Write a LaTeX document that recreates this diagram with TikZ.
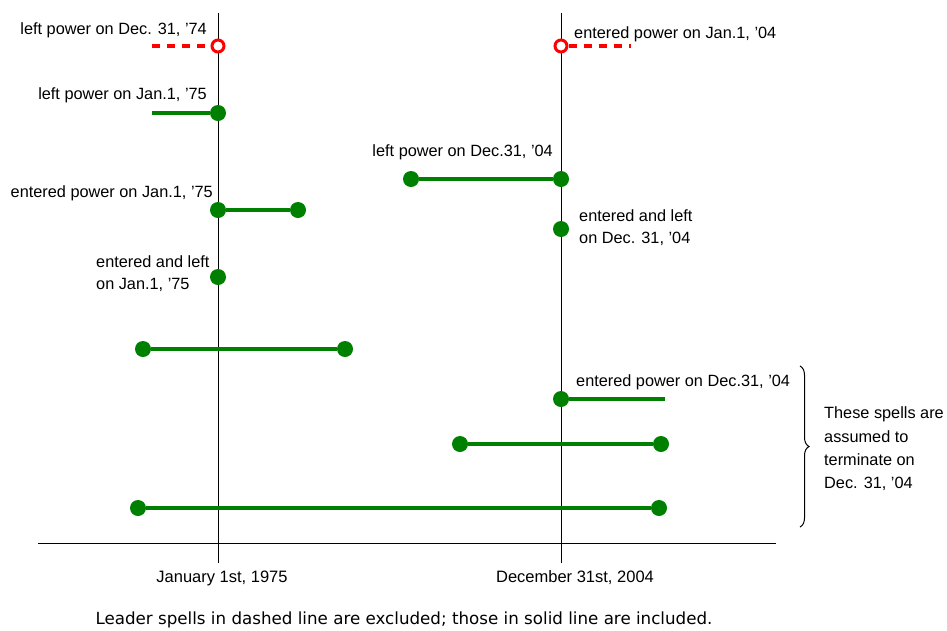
\documentclass[tikz,border=0pt]{standalone}
\usepackage{fontspec}
\setmainfont{Liberation Sans}
\newfontfamily\capfont{DejaVu Sans}
\usetikzlibrary{decorations.pathreplacing}
\definecolor{spellgreen}{RGB}{0,128,0}
\definecolor{spellred}{RGB}{255,0,0}
\begin{document}
\begin{tikzpicture}[x=1pt,y=-1pt,
  dot/.style={circle,fill=spellgreen,inner sep=0pt,minimum size=16pt},
  opendot/.style={circle,draw=spellred,line width=3pt,fill=white,inner sep=0pt,minimum size=12pt},
  spell/.style={draw=spellgreen,line width=4pt},
  dropped/.style={draw=spellred,line width=3.4pt,dash pattern=on 8pt off 7pt},
  lbl/.style={font=\fontsize{16.3}{20}\selectfont,inner sep=0pt},
  axis/.style={draw=black,line width=0.9pt}]
\useasboundingbox (0,0) rectangle (947,630);

% time axis and the two reference dates
\coordinate (axL) at (38,543);
\coordinate (axR) at (776,543);
\coordinate (v1t) at (218,13);
\coordinate (v1b) at (218,563);
\coordinate (v2t) at (561,13);
\coordinate (v2b) at (561,563);
\draw[axis] (axL) -- (axR);
\draw[axis] (v1t) -- (v1b);
\draw[axis] (v2t) -- (v2b);

% excluded spells (dashed)
\coordinate (r1s) at (152,46);
\node[opendot] (r1e) at (218,46) {};
\draw[dropped] (r1s) -- (r1e);
\coordinate (r2e) at (631,46);
\node[opendot] (r2s) at (561,46) {};
\draw[dropped] (r2s) -- (r2e);

% included spells (solid)
\coordinate (g1s) at (152,113);
\node[dot] (g1e) at (218,113) {};
\draw[spell] (g1s) -- (g1e);

\node[dot] (g2s) at (411,179) {};
\node[dot] (g2e) at (561,179) {};
\draw[spell] (g2s) -- (g2e);

\node[dot] (g3s) at (218,210) {};
\node[dot] (g3e) at (298,210) {};
\draw[spell] (g3s) -- (g3e);

\node[dot] (g4) at (561,229) {};
\node[dot] (g5) at (218,277) {};

\node[dot] (g6s) at (143,349) {};
\node[dot] (g6e) at (345,349) {};
\draw[spell] (g6s) -- (g6e);

\node[dot] (g7s) at (561,399) {};
\coordinate (g7e) at (665,399);
\draw[spell] (g7s) -- (g7e);

\node[dot] (g8s) at (460,444) {};
\node[dot] (g8e) at (661,444) {};
\draw[spell] (g8s) -- (g8e);

\node[dot] (g9s) at (138,508) {};
\node[dot] (g9e) at (659,508) {};
\draw[spell] (g9s) -- (g9e);

% labels
\node[lbl,anchor=east] (t1) at (207,30) {left power on Dec. 31, '74};
\node[lbl,anchor=west] (t2) at (574,34) {entered power on Jan.1, '04};
\node[lbl,anchor=east] (t3) at (207,95) {left power on Jan.1, '75};
\node[lbl,anchor=east] (t4) at (553,152) {left power on Dec.31, '04};
\node[lbl,anchor=east] (t5) at (213,193) {entered power on Jan.1, '75};
\node[lbl,anchor=west,align=left,font=\fontsize{16.3}{22}\selectfont] (t6) at (579,228) {entered and left\\on Dec. 31, '04};
\node[lbl,anchor=west,align=left,font=\fontsize{16.3}{22}\selectfont] (t7) at (96,274) {entered and left\\on Jan.1, '75};
\node[lbl,anchor=west] (t8) at (576,382) {entered power on Dec.31, '04};

% right-censored group
\coordinate (brT) at (800,366);
\coordinate (brB) at (800,527);
\draw[line width=1pt,decorate,decoration={brace,amplitude=9pt}] (brT) -- (brB);
\node[lbl,anchor=west,align=left,font=\fontsize{16.3}{23.3}\selectfont] (t9) at (824,449)
  {These spells are\\assumed to\\terminate on\\Dec. 31, '04};

% date labels and caption
\node[lbl,font=\fontsize{16.5}{20}\selectfont] (d1) at (222,578) {January 1st, 1975};
\node[lbl,font=\fontsize{16.5}{20}\selectfont] (d2) at (575,578) {December 31st, 2004};
\node[inner sep=0pt,font=\capfont\fontsize{16.7}{20}\selectfont] (cap) at (404,620)
  {Leader spells in dashed line are excluded; those in solid line are included.};
\end{tikzpicture}
\end{document}
